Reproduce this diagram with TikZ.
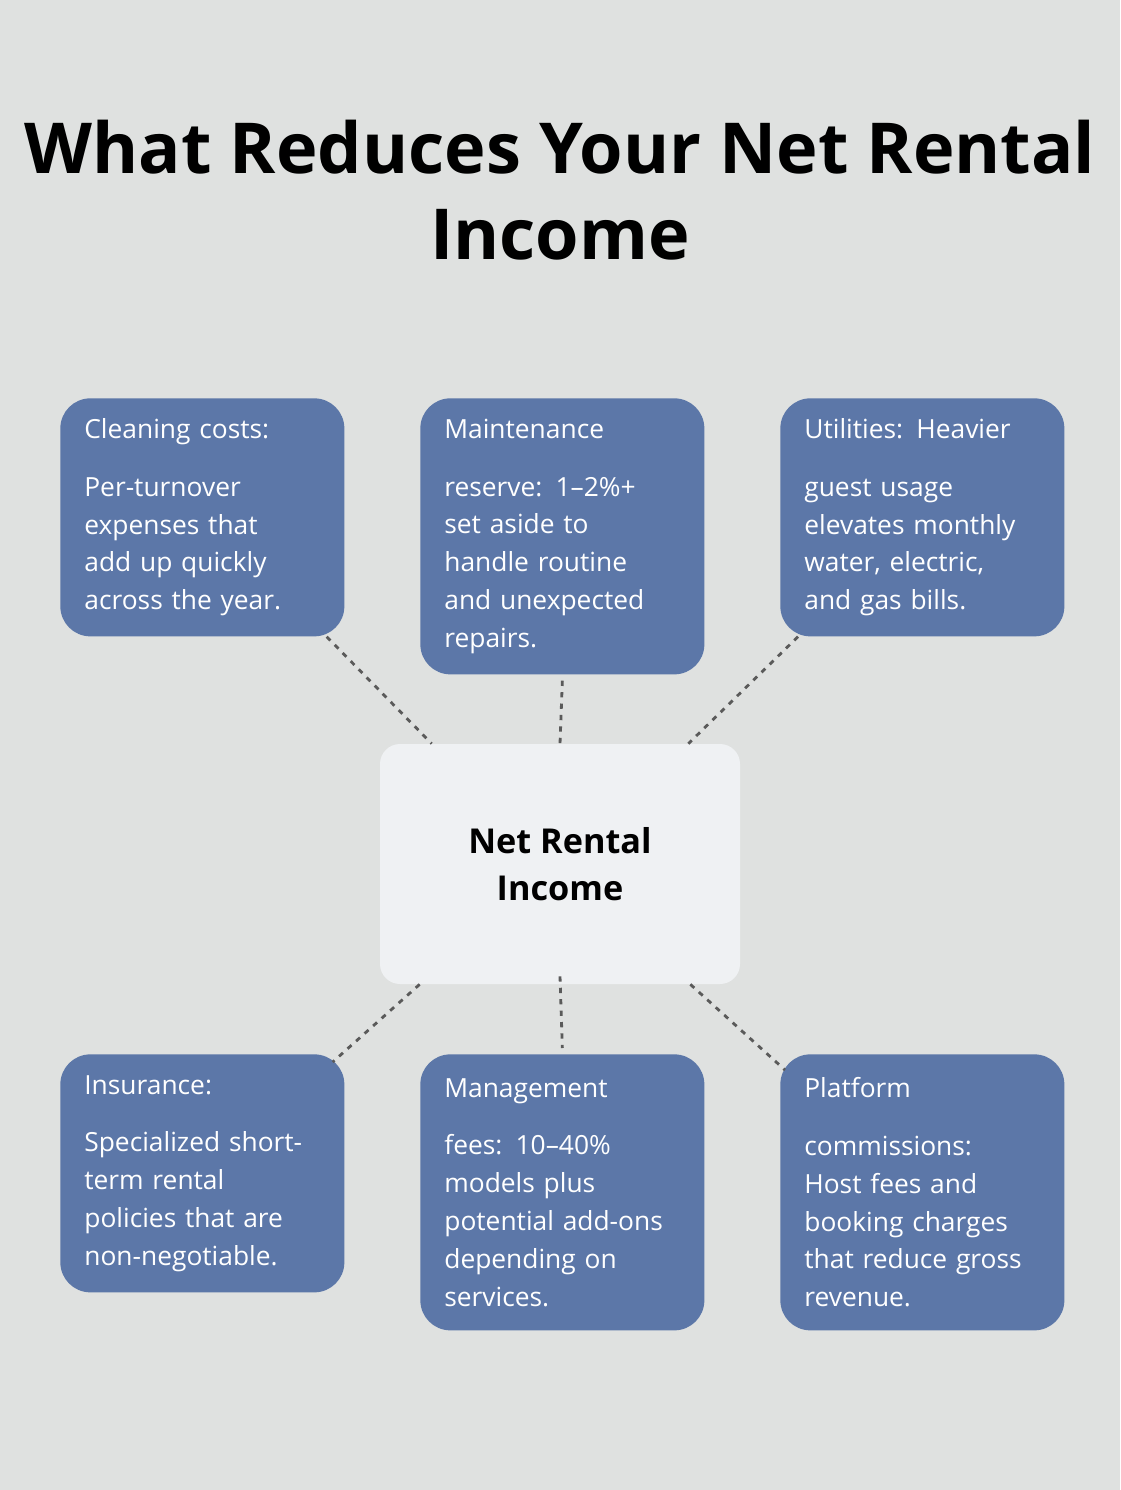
\documentclass[tikz,border=0pt]{standalone}
\usepackage{fontspec}
\setmainfont{Open Sans}
\usetikzlibrary{positioning}
\definecolor{bgcol}{HTML}{DFE1E0}
\definecolor{boxcol}{HTML}{5C77A8}
\definecolor{centcol}{HTML}{EFF1F3}
\definecolor{dotcol}{HTML}{5A5A5A}
\tikzset{
  cost/.style={fill=boxcol, rounded corners=30*0.02cm, anchor=north west, align=left,
    text=white, inner xsep=24*0.02cm, inner ysep=0pt, text width=236*0.02cm,
    font=\fontsize{15}{21.5}\selectfont, minimum width=280*0.02cm},
  link/.style={dotcol, line width=1.6pt, dash pattern=on 3pt off 3.5pt}
}
\begin{document}
\begin{tikzpicture}[x=0.02cm,y=-0.02cm]
  \fill[bgcol] (0,0) rectangle (1120,1490);
  \useasboundingbox (0,0) rectangle (1120,1490);
  \node[font=\fontsize{40}{49}\selectfont\bfseries, align=center] (title) at (560,190)
    {What Reduces Your Net Rental\\Income};
  % center
  \node[fill=centcol, rounded corners=20*0.02cm, minimum width=360*0.02cm,
    minimum height=240*0.02cm, align=center, font=\fontsize{19.5}{27}\selectfont\bfseries]
    (net) at (560,864) {Net Rental\\Income};
  % top row
  \node[cost, minimum height=238*0.02cm] (clean) at (60,398)
    {\vspace{20\dimexpr0.02cm\relax}Cleaning costs:\\Per-turnover\\expenses that\\add up quickly\\across the year.};
  \node[cost, minimum height=276*0.02cm] (maint) at (420,398)
    {\vspace{20\dimexpr0.02cm\relax}Maintenance\\reserve: 1–2\%+\\set aside to\\handle routine\\and unexpected\\repairs.};
  \node[cost, minimum height=238*0.02cm] (util) at (780,398)
    {\vspace{20\dimexpr0.02cm\relax}Utilities: Heavier\\guest usage\\elevates monthly\\water, electric,\\and gas bills.};
  % bottom row
  \node[cost, minimum height=238*0.02cm] (insur) at (60,1054)
    {\vspace{20\dimexpr0.02cm\relax}Insurance:\\Specialized short-\\term rental\\policies that are\\non-negotiable.};
  \node[cost, minimum height=276*0.02cm] (manage) at (420,1054)
    {\vspace{20\dimexpr0.02cm\relax}Management\\fees: 10–40\%\\models plus\\potential add-ons\\depending on\\services.};
  \node[cost, minimum height=276*0.02cm] (plat) at (780,1054)
    {\vspace{20\dimexpr0.02cm\relax}Platform\\commissions:\\Host fees and\\booking charges\\that reduce gross\\revenue.};
  % dotted links
  \draw[link] ([xshift=-18*0.02cm]clean.south east) -- ([xshift=52*0.02cm]net.north west);
  \draw[link] ([yshift=-6*0.02cm]maint.south) -- (net.north);
  \draw[link] ([xshift=18*0.02cm]util.south west) -- ([xshift=-52*0.02cm]net.north east);
  \draw[link] ([xshift=40*0.02cm]net.south west) -- ([xshift=-12*0.02cm,yshift=-8*0.02cm]insur.north east);
  \draw[link] ([yshift=8*0.02cm]net.south) -- ([yshift=6*0.02cm]manage.north);
  \draw[link] ([xshift=-50*0.02cm]net.south east) -- ([xshift=5*0.02cm,yshift=-16*0.02cm]plat.north west);
\end{tikzpicture}
\end{document}
